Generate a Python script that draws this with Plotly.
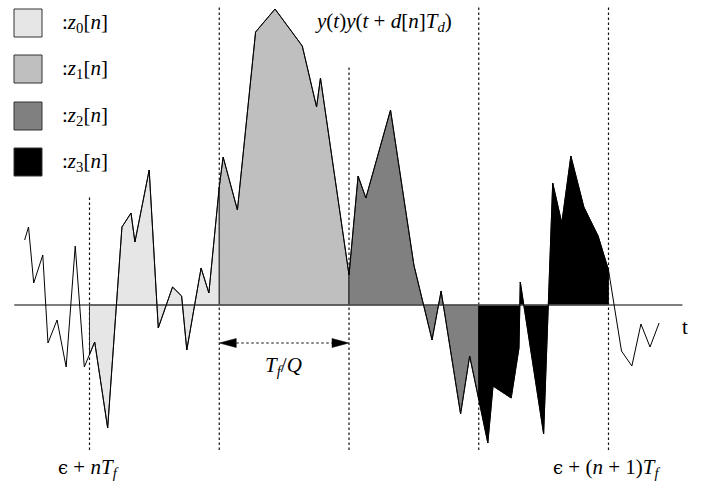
import numpy as np
import plotly.graph_objects as go

# ---- data (time in units of T_f/Q, amplitude arbitrary) ----
t_vals = [-0.50, -0.47, -0.43, -0.36, -0.32, -0.25, -0.18, -0.11, -0.04, 0.04,
          0.14, 0.25, 0.32, 0.35, 0.46, 0.53, 0.64, 0.71, 0.75, 0.86,
          0.92, 1.00, 1.03, 1.14, 1.28, 1.43, 1.64, 1.75, 1.78, 2.00,
          2.07, 2.13, 2.32, 2.50, 2.64, 2.71, 2.86, 2.93, 3.07, 3.11,
          3.25, 3.31, 3.32, 3.50, 3.57, 3.64, 3.71, 3.81, 3.92, 4.00,
          4.10, 4.18, 4.25, 4.32, 4.39]
y_vals = [0.65, 0.78, 0.22, 0.50, -0.38, -0.15, -0.62, 0.59, -0.62, -0.37,
          -1.23, 0.78, 0.92, 0.63, 1.35, -0.23, 0.18, 0.09, -0.45, 0.37,
          0.12, 1.18, 1.48, 0.95, 2.73, 2.96, 2.59, 1.98, 2.27, 0.30,
          1.29, 1.07, 1.95, 0.40, -0.35, 0.14, -1.09, -0.51, -1.38, -0.81,
          -0.93, -0.43, 0.23, -1.29, 1.22, 0.82, 1.49, 0.98, 0.69, 0.35,
          -0.46, -0.61, -0.19, -0.42, -0.18]

segment_starts = [0, 1, 2, 3]
segment_colors = ["#e6e6e6", "#bfbfbf", "#808080", "#000000"]
legend_labels = [":<i>z</i><sub>0</sub>[<i>n</i>]", ":<i>z</i><sub>1</sub>[<i>n</i>]",
                 ":<i>z</i><sub>2</sub>[<i>n</i>]", ":<i>z</i><sub>3</sub>[<i>n</i>]"]
marker_times = [0, 1, 2, 3, 4]
marker_tops = [1.10, 3.00, 2.40, 3.00, 3.00]
marker_bottom = -1.45
axis_span = [-0.58, 4.57]
arrow_level = -0.38

W, H = 716, 496
XR = [(0 - 89.5) / 129.75, (716 - 89.5) / 129.75]
YR = [(305 - 496) / 100, 3.05]

t_arr = np.array(t_vals)
y_arr = np.array(y_vals)

fig = go.Figure()

# filled segments
for k, col in zip(segment_starts, segment_colors):
    a, b = k, k + 1
    inside = (t_arr > a) & (t_arr < b)
    px = [a] + list(t_arr[inside]) + [b]
    py = [float(np.interp(a, t_arr, y_arr))] + list(y_arr[inside]) + [float(np.interp(b, t_arr, y_arr))]
    px += [b, a, a]
    py += [0, 0, py[0]]
    fig.add_trace(go.Scatter(x=px, y=py, mode="lines", fill="toself", fillcolor=col,
                             line=dict(color="black", width=0.8), hoverinfo="skip",
                             showlegend=False))

# horizontal axis
fig.add_trace(go.Scatter(x=axis_span, y=[0, 0], mode="lines",
                         line=dict(color="#555555", width=1.6), showlegend=False))

# signal
fig.add_trace(go.Scatter(x=t_vals, y=y_vals, mode="lines",
                         line=dict(color="black", width=1.0), showlegend=False))

shapes = []
for tm, top in zip(marker_times, marker_tops):
    shapes.append(dict(type="line", xref="x", yref="y", x0=tm, x1=tm, y0=marker_bottom, y1=top,
                       line=dict(color="#111111", width=1.2, dash="2.5px,2.5px"), layer="below"))

# double arrow T_f/Q
hl = 17 / 129.75
hh = 0.045
shapes.append(dict(type="line", xref="x", yref="y", x0=1 + hl, x1=2 - hl, y0=arrow_level, y1=arrow_level,
                   line=dict(color="#111111", width=1.2, dash="2.5px,2.5px")))
shapes.append(dict(type="path", xref="x", yref="y",
                   path=f"M 1,{arrow_level} L {1+hl},{arrow_level+hh} L {1+hl},{arrow_level-hh} Z",
                   fillcolor="black", line=dict(color="black", width=0.5)))
shapes.append(dict(type="path", xref="x", yref="y",
                   path=f"M 2,{arrow_level} L {2-hl},{arrow_level+hh} L {2-hl},{arrow_level-hh} Z",
                   fillcolor="black", line=dict(color="black", width=0.5)))

# legend boxes
box_tops = [9, 55, 102, 148]
for top, col, lab in zip(box_tops, segment_colors, legend_labels):
    shapes.append(dict(type="rect", xref="paper", yref="paper",
                       x0=14 / W, x1=42 / W, y0=1 - (top + 28) / H, y1=1 - top / H,
                       fillcolor=col, line=dict(color="#333333", width=1)))

annotations = []
font = dict(family="Liberation Serif, DejaVu Serif, serif", size=21, color="black")
for top, lab in zip(box_tops, legend_labels):
    annotations.append(dict(text=lab, xref="paper", yref="paper", x=60 / W, y=1 - (top + 14) / H,
                            xanchor="left", yanchor="middle", showarrow=False, font=font))

eps = "<span style='font-family:DejaVu Serif;font-size:18px'>ϵ</span>"
annotations += [
    dict(text="<i>y</i>(<i>t</i>)<i>y</i>(<i>t</i> + <i>d</i>[<i>n</i>]<i>T</i><sub><i>d</i></sub>)",
         xref="paper", yref="paper", x=383 / W, y=1 - 22 / H, xanchor="center", yanchor="middle",
         showarrow=False, font=font),
    dict(text="<i>T</i><sub><i>f</i></sub>/<i>Q</i>", xref="paper", yref="paper", x=283 / W, y=1 - 366 / H,
         xanchor="center", yanchor="middle", showarrow=False, font=font),
    dict(text="t", xref="paper", yref="paper", x=685 / W, y=1 - 327 / H,
         xanchor="center", yanchor="middle", showarrow=False, font=font),
    dict(text=eps + " + <i>nT</i><sub><i>f</i></sub>", xref="paper", yref="paper", x=88 / W, y=1 - 468 / H,
         xanchor="center", yanchor="middle", showarrow=False, font=font),
    dict(text=eps + " + (<i>n</i> + 1)<i>T</i><sub><i>f</i></sub>", xref="paper", yref="paper", x=606 / W, y=1 - 468 / H,
         xanchor="center", yanchor="middle", showarrow=False, font=font),
]

fig.update_layout(
    width=W, height=H, margin=dict(l=0, r=0, t=0, b=0),
    paper_bgcolor="white", plot_bgcolor="white",
    xaxis=dict(range=XR, visible=False, fixedrange=True),
    yaxis=dict(range=YR, visible=False, fixedrange=True),
    shapes=shapes, annotations=annotations, showlegend=False,
)

fig.write_html("out.html")
